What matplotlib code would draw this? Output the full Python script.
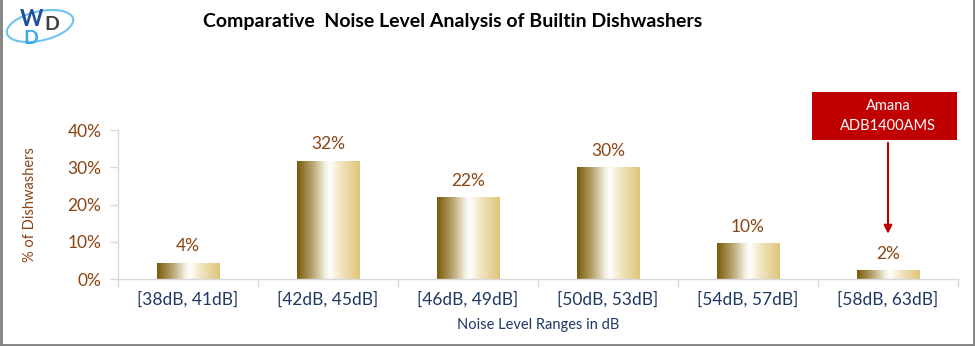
import matplotlib.pyplot as plt
import numpy as np
from matplotlib.colors import LinearSegmentedColormap
from matplotlib.patches import Rectangle, Ellipse
from matplotlib.lines import Line2D

plt.rcParams['font.family'] = ['Lato', 'DejaVu Sans']

# data
ranges = ['[38dB, 41dB]', '[42dB, 45dB]', '[46dB, 49dB]', '[50dB, 53dB]', '[54dB, 57dB]', '[58dB, 63dB]']
shares = [0.044, 0.318, 0.220, 0.301, 0.097, 0.024]
labels = ['4%', '32%', '22%', '30%', '10%', '2%']
yticks = [0, 0.1, 0.2, 0.3, 0.4]

brown = '#8B4513'
navy = '#1F3864'
grey = '#D9D9D9'

fig = plt.figure(figsize=(9.75, 3.46), dpi=100)
ax = fig.add_axes([118 / 975, 67 / 346, 840 / 975, 149 / 346])

x = np.arange(len(ranges))
bars = ax.bar(x, shares, width=0.45, color='none', edgecolor='none')

# metallic gold gradient, left to right
gold = LinearSegmentedColormap.from_list('gold', [
    (0.0, '#7A5A08'), (0.25, '#B9A673'), (0.45, '#F3EFE2'), (0.52, '#FFFFFF'),
    (0.7, '#F1E4BE'), (1.0, '#DEC47A')])
grad = np.linspace(0, 1, 256).reshape(1, -1)
for b in bars:
    im = ax.imshow(grad, cmap=gold, aspect='auto', interpolation='bicubic',
                   extent=(b.get_x(), b.get_x() + b.get_width(), 0, b.get_height()), zorder=2)
    im.set_clip_path(b)

ax.set_xlim(-0.5, len(ranges) - 0.5)
ax.set_ylim(0, 0.4)

for xi, v, lab in zip(x, shares, labels):
    ax.text(xi, v + 0.022, lab, ha='center', va='bottom', fontsize=12.5, color=brown)

ax.set_yticks(yticks)
ax.set_yticklabels([f'{int(round(t * 100))}%' for t in yticks], fontsize=12.5, color=brown)
ax.set_xticks(x)
ax.set_xticklabels(ranges, fontsize=12.5, color=navy)
ax.set_xticks(np.arange(-0.5, len(ranges)), minor=True)
ax.tick_params(axis='x', which='major', length=0, pad=9)
ax.tick_params(axis='x', which='minor', length=6, color=grey, width=1)
ax.tick_params(axis='y', length=6, color=grey, width=1, pad=6)

for s in ['top', 'right']:
    ax.spines[s].set_visible(False)
for s in ['left', 'bottom']:
    ax.spines[s].set_color(grey)
    ax.spines[s].set_linewidth(1)

ax.set_xlabel('Noise Level Ranges in dB', fontsize=10.5, color=navy, labelpad=7)
ax.set_ylabel('% of Dishwashers', fontsize=10.5, color=brown, labelpad=22)

fig.text(453 / 975, 1 - 22 / 346, 'Comparative  Noise Level Analysis of Builtin Dishwashers',
         ha='center', va='center', fontsize=14, fontweight='bold', color='black')

# callout for the loudest model
ax.add_patch(Rectangle((4.457, 0.373), 1.036, 0.129, facecolor='#C00000', edgecolor='none',
                       clip_on=False, zorder=4))
ax.text(5, 0.4375, 'Amana\nADB1400AMS', ha='center', va='center', fontsize=10.5,
        color='white', linespacing=1.5, zorder=5, clip_on=False)
ax.annotate('', xy=(5, shares[5] + 0.09), xytext=(5, 0.373),
            arrowprops=dict(arrowstyle='-|>', color='#C00000', lw=1.5, mutation_scale=12),
            annotation_clip=False, zorder=5)

# logo
fig.patches.append(Ellipse((40 / 975, 1 - 26 / 346), 58 / 975, 34 / 346, angle=-25,
                           transform=fig.transFigure, fill=False, edgecolor='#6EC3F0', lw=1.5))
fig.text(31 / 975, 1 - 19 / 346, 'W', fontsize=16, fontweight='bold', color='#1F4E9C',
         ha='center', va='center')
fig.text(52 / 975, 1 - 25 / 346, 'D', fontsize=14, fontweight='bold', color='#404040',
         ha='center', va='center')
fig.text(31 / 975, 1 - 39 / 346, 'D', fontsize=14, fontweight='bold', color='#3BA8E8',
         ha='center', va='center')

# outer frame
for xs, ys in [([0.001, 0.001], [0, 1]), ([0.999, 0.999], [0, 1]), ([0, 1], [0.003, 0.003])]:
    fig.lines.append(Line2D(xs, ys, transform=fig.transFigure, color='#808080', lw=2))

fig.savefig('out.png', dpi=100)
